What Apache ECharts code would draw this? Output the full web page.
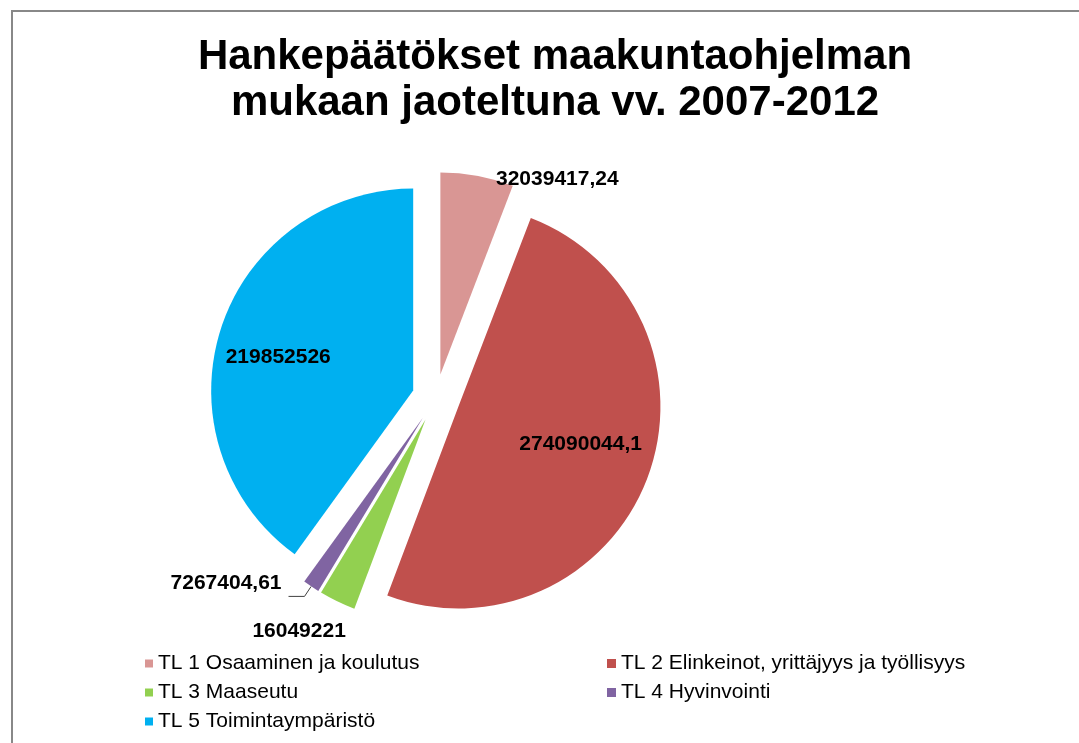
<!DOCTYPE html>
<html>
<head>
<meta charset="utf-8">
<script src="https://cdn.jsdelivr.net/npm/echarts@6/dist/echarts.min.js"></script>
<style>
  html, body { margin: 0; padding: 0; background: #fff; }
  #chart { width: 1079px; height: 743px; }
</style>
</head>
<body>
<div id="chart"></div>
<script>
  // data
  var categories = [
    'TL 1 Osaaminen ja koulutus',
    'TL 2 Elinkeinot, yrittäjyys ja työllisyys',
    'TL 3 Maaseutu',
    'TL 4 Hyvinvointi',
    'TL 5 Toimintaympäristö'
  ];
  var values = [32039417.24, 274090044.1, 16049221, 7267404.61, 219852526];
  var valueLabels = ['32039417,24', '274090044,1', '16049221', '7267404,61', '219852526'];
  var colors = ['#D99694', '#C0504D', '#92D050', '#8064A2', '#00B0F0'];

  // label nudges from the default spot (TL4 sits outside with a leader line)
  var labelShift = [[98, -93], [25, 1], [-81, 118], [-2, -13], [-36, -1]];
  var labelPos = ['inside', 'inside', 'inside', 'outside', 'inside'];

  var chart = echarts.init(document.getElementById('chart'));

  var pieData = values.map(function (v, i) {
    return {
      name: categories[i],
      value: v,
      selected: true,
      itemStyle: { color: colors[i] },
      label: { position: labelPos[i] },
      labelLine: { show: labelPos[i] === 'outside' }
    };
  });

  var legendText = { fontFamily: 'Liberation Sans, Arial, sans-serif', fontSize: 21, color: '#000' };

  chart.setOption({
    animation: false,
    title: {
      text: 'Hankepäätökset maakuntaohjelman\nmukaan jaoteltuna vv. 2007-2012',
      left: 550,
      top: 29,
      textAlign: 'center',
      textStyle: {
        fontFamily: 'Liberation Sans, Arial, sans-serif',
        fontWeight: 'bold',
        fontSize: 42,
        lineHeight: 46,
        color: '#000'
      }
    },
    graphic: [{
      type: 'rect',
      silent: true,
      shape: { x: 12, y: 11, width: 1200, height: 900 },
      style: { fill: null, stroke: '#888', lineWidth: 2 }
    }],
    legend: [{
      orient: 'vertical',
      left: 140,
      top: 648,
      itemWidth: 8,
      itemHeight: 8,
      itemGap: 8,
      icon: 'rect',
      data: [categories[0], categories[2], categories[4]],
      textStyle: legendText
    }, {
      orient: 'vertical',
      left: 602,
      top: 648,
      itemWidth: 9,
      itemHeight: 9,
      itemGap: 8,
      icon: 'rect',
      data: [categories[1], categories[3]],
      textStyle: legendText
    }],
    series: [{
      type: 'pie',
      center: [436, 398],
      radius: 202,
      startAngle: 90,
      clockwise: true,
      selectedMode: 'multiple',
      selectedOffset: 24,
      avoidLabelOverlap: false,
      emphasis: { disabled: true },
      label: {
        fontFamily: 'Liberation Sans, Arial, sans-serif',
        fontWeight: 'bold',
        fontSize: 21,
        color: '#000',
        formatter: function (p) { return valueLabels[p.dataIndex]; }
      },
      labelLine: {
        length: 12,
        length2: 16,
        lineStyle: { color: '#404040', width: 1 }
      },
      labelLayout: function (p) {
        return { dx: labelShift[p.dataIndex][0], dy: labelShift[p.dataIndex][1] };
      },
      data: pieData
    }]
  });
</script>
</body>
</html>
